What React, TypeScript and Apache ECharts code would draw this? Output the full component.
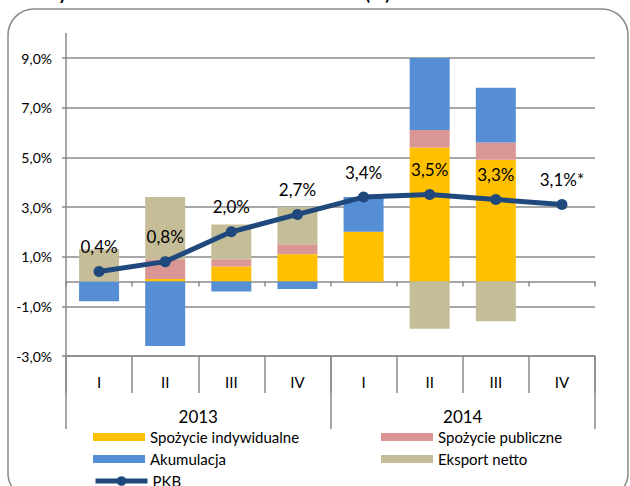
import React, { useEffect, useRef } from 'react';
import * as echarts from 'echarts';

const years = ['2013', '2014'];
const quarters = ['I', 'II', 'III', 'IV'];
const categories = years.flatMap((y) => quarters.map((q) => `${y} ${q}`));

const indywidualne = [0, 0.1, 0.6, 1.1, 2.0, 5.4, 4.9, 0];
const publiczne = [0, 0.8, 0.3, 0.4, 0, 0.7, 0.7, 0];
const akumulacja = [-0.8, -2.6, -0.4, -0.3, 1.4, 2.9, 2.2, 0];
const eksport = [1.3, 2.5, 1.4, 1.5, 0, -1.9, -1.6, 0];
const pkb = [0.4, 0.8, 2.0, 2.7, 3.4, 3.5, 3.3, 3.1];
const pkbLabels = ['0,4%', '0,8%', '2,0%', '2,7%', '3,4%', '3,5%', '3,3%', '3,1%*'];

const yMin = -3;
const yMax = 9;
const yInterval = 2;

const FONT = 'Lato';
const AXIS = '#8a8a8a';

export default function App() {
  const ref = useRef<HTMLDivElement>(null);
  useEffect(() => {
    document.body.style.margin = '0';
    if (!ref.current) return;
    const chart = echarts.init(ref.current, undefined, { renderer: 'svg' });
    const barBase = {
      type: 'bar' as const,
      stack: 'total',
      barWidth: 40,
      xAxisIndex: 0,
      yAxisIndex: 0,
    };
    const legendBase = {
      orient: 'vertical' as const,
      padding: 0,
      itemWidth: 52,
      itemHeight: 8,
      itemGap: 6,
      textStyle: { fontSize: 15, lineHeight: 16, color: '#000', fontFamily: FONT },
    };
    chart.setOption({
      animation: false,
      textStyle: { fontFamily: FONT },
      grid: { left: 66, right: 35, top: 58, bottom: 130, containLabel: false },
      xAxis: [
        {
          type: 'category',
          data: categories,
          position: 'bottom',
          axisLine: { show: true, onZero: true, lineStyle: { color: AXIS, width: 1.5 } },
          axisTick: { show: true, length: 5, lineStyle: { color: AXIS, width: 1.5 } },
          axisLabel: { show: false },
          splitLine: { show: false },
        },
        {
          type: 'category',
          data: categories,
          position: 'bottom',
          axisLine: { show: true, onZero: false, lineStyle: { color: AXIS, width: 1.5 } },
          axisTick: { show: true, length: 37, lineStyle: { color: AXIS, width: 1.5 } },
          axisLabel: {
            show: true,
            margin: 18,
            fontSize: 15,
            color: '#000',
            fontFamily: FONT,
            formatter: (v: string) => v.split(' ')[1],
          },
        },
        {
          type: 'category',
          data: years,
          position: 'bottom',
          axisLine: { show: false, onZero: false },
          axisTick: { show: true, length: 73, lineStyle: { color: AXIS, width: 1.5 } },
          axisLabel: { show: true, margin: 52, fontSize: 17, color: '#000', fontFamily: FONT },
        },
      ],
      yAxis: {
        type: 'value',
        min: yMin,
        max: yMax,
        interval: yInterval,
        axisLine: { show: true, lineStyle: { color: AXIS, width: 1.5 } },
        axisTick: { show: true, length: 4, lineStyle: { color: AXIS, width: 1.5 } },
        splitLine: { show: true, lineStyle: { color: AXIS, width: 1.5 } },
        axisLabel: {
          margin: 14,
          fontSize: 14,
          color: '#000',
          fontFamily: FONT,
          formatter: (v: number) => v.toFixed(1).replace('.', ',') + '%',
        },
      },
      legend: [
        {
          ...legendBase,
          left: 93,
          top: 429,
          data: [
            { name: 'Spożycie indywidualne', icon: 'rect' },
            { name: 'Akumulacja', icon: 'rect' },
          ],
        },
        {
          ...legendBase,
          left: 93,
          top: 473,
          itemHeight: 12,
          lineStyle: { width: 5, color: '#1F497D' },
          data: [{ name: 'PKB' }],
        },
        {
          ...legendBase,
          left: 381,
          top: 429,
          data: [
            { name: 'Spożycie publiczne', icon: 'rect' },
            { name: 'Eksport netto', icon: 'rect' },
          ],
        },
      ],
      series: [
        { ...barBase, name: 'Spożycie indywidualne', data: indywidualne, itemStyle: { color: '#FFC000' } },
        { ...barBase, name: 'Spożycie publiczne', data: publiczne, itemStyle: { color: '#D99694' } },
        { ...barBase, name: 'Akumulacja', data: akumulacja, itemStyle: { color: '#558ED5' } },
        { ...barBase, name: 'Eksport netto', data: eksport, itemStyle: { color: '#C4BD97' } },
        {
          type: 'line',
          name: 'PKB',
          data: pkb,
          xAxisIndex: 0,
          yAxisIndex: 0,
          z: 5,
          symbol: 'circle',
          symbolSize: 11,
          lineStyle: { color: '#1F497D', width: 5 },
          itemStyle: { color: '#1F497D' },
          label: {
            show: true,
            position: 'top',
            distance: 11,
            fontSize: 17,
            color: '#000',
            fontFamily: FONT,
            formatter: (p: { dataIndex: number }) => pkbLabels[p.dataIndex],
          },
        },
      ],
      graphic: [
        {
          type: 'rect',
          silent: true,
          z: -10,
          shape: { x: 8, y: 9, width: 620, height: 490, r: 26 },
          style: { fill: 'none', stroke: AXIS, lineWidth: 1.5 },
        },
        {
          type: 'line',
          silent: true,
          shape: { x1: 66, y1: 33, x2: 66, y2: 58 },
          style: { stroke: AXIS, lineWidth: 1.5 },
        },
        {
          type: 'text',
          silent: true,
          x: 44,
          y: 2,
          style: {
            text: 'Dynamika PKB oraz wkład składników (%)',
            font: 'bold 18.5px Lato',
            fill: '#000',
            verticalAlign: 'bottom',
          },
        },
      ],
    });
    return () => chart.dispose();
  }, []);
  return <div ref={ref} style={{ width: 630, height: 486 }} />;
}
